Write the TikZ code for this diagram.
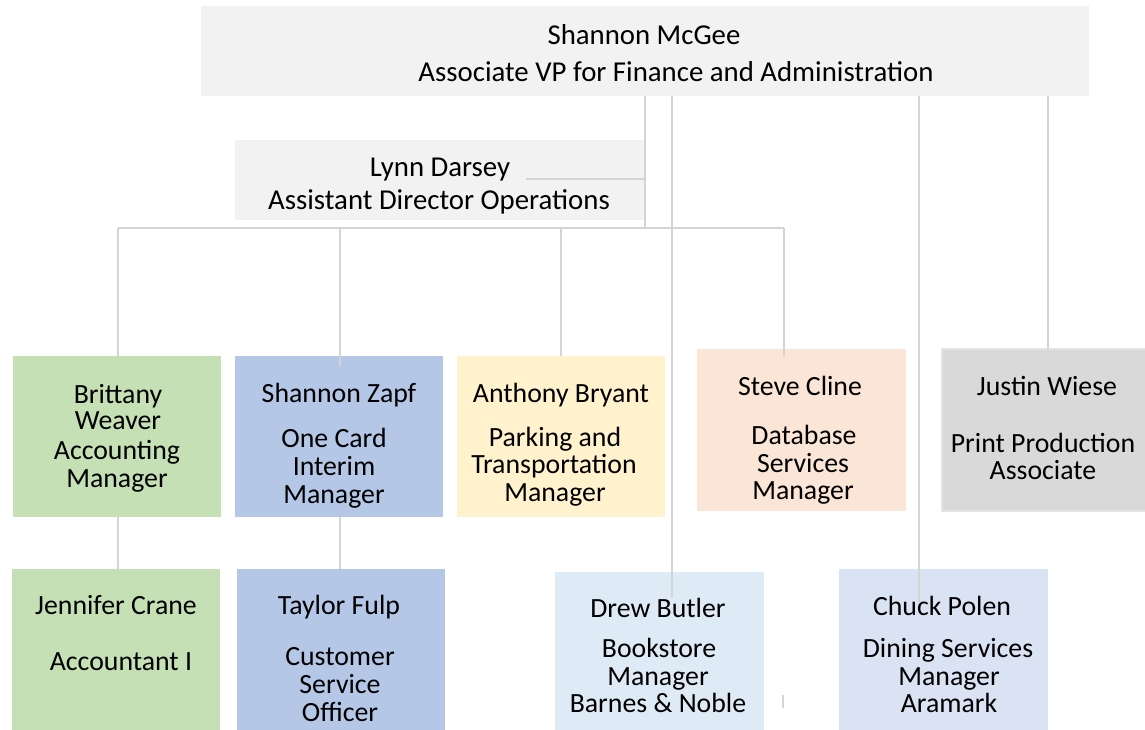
\documentclass[tikz,border=0pt]{standalone}
\usepackage{fontspec}
\setmainfont{Carlito}
\definecolor{topfill}{HTML}{F2F2F2}
\definecolor{greenfill}{HTML}{C5E0B4}
\definecolor{bluefill}{HTML}{B4C7E7}
\definecolor{yellowfill}{HTML}{FFF2CC}
\definecolor{peachfill}{HTML}{FBE5D6}
\definecolor{grayfill}{HTML}{D9D9D9}
\definecolor{grayedge}{HTML}{E4E4E4}
\definecolor{lightblue}{HTML}{DEEBF7}
\definecolor{paleblue}{HTML}{DAE3F3}
\definecolor{linecol}{HTML}{D4D4D4}
\begin{document}
\begin{tikzpicture}[x=1pt,y=-1pt,
  box/.style={inner sep=0pt, outer sep=0pt, anchor=north west, draw=none},
  txt/.style={anchor=base, inner sep=0pt, font=\fontsize{27.8}{28}\selectfont},
  bigtxt/.style={anchor=base, inner sep=0pt, font=\fontsize{28.8}{29}\selectfont},
  conn/.style={draw=linecol, line width=1.1pt}]
\useasboundingbox (0,0) rectangle (1145,729);
\clip (0,0) rectangle (1145,729);
% boxes
\node[box, fill=topfill, minimum width=888pt, minimum height=90pt] (top) at (201,6) {};
\node[box, fill=topfill, minimum width=410pt, minimum height=80pt] (lynn) at (235,140) {};
\node[box, fill=greenfill, minimum width=208pt, minimum height=161pt] (brit) at (13,356) {};
\node[box, fill=bluefill, minimum width=208pt, minimum height=161pt] (zapf) at (235,356) {};
\node[box, fill=yellowfill, minimum width=208pt, minimum height=161pt] (anth) at (457,356) {};
\node[box, fill=peachfill, minimum width=209pt, minimum height=162pt] (steve) at (697,349) {};
\node[box, fill=grayfill, draw=grayedge, line width=1.5pt, minimum width=212pt, minimum height=162pt] (justin) at (942,349) {};
\node[box, fill=greenfill, minimum width=208pt, minimum height=175pt] (jen) at (12,569) {};
\node[box, fill=bluefill, minimum width=208pt, minimum height=175pt] (taylor) at (237,569) {};
\node[box, fill=lightblue, minimum width=209pt, minimum height=175pt] (drew) at (555,572) {};
\node[box, fill=paleblue, minimum width=209pt, minimum height=175pt] (chuck) at (839,569) {};
% coordinates
\coordinate (bus) at (645,228);
\coordinate (busL) at (118,228);
\coordinate (busR) at (784,228);
\coordinate (lynnstub) at (526,179);
\coordinate (zapfend) at (340,367);
\coordinate (steveend) at (784,356);
\coordinate (drewtop) at (672,96);
\coordinate (drewend) at (672,598);
\coordinate (chucktop) at (919,96);
\coordinate (chuckend) at (919,602);
\coordinate (justtop) at (1048,96);
\coordinate (tickA) at (783,695);
\coordinate (tickB) at (783,708);
% connectors
\draw[conn] (top.south -| bus) -- (bus);
\draw[conn] (lynnstub) -- (lynnstub -| bus);
\draw[conn] (busL) -- (busR);
\draw[conn] (busL) -- (brit.north -| busL);
\draw[conn] (zapfend |- bus) -- (zapfend);
\draw[conn] (anth.north |- bus) -- (anth.north);
\draw[conn] (busR) -- (steveend);
\draw[conn] (drewtop) -- (drewend);
\draw[conn] (chucktop) -- (chuckend);
\draw[conn] (justtop) -- (justtop |- justin.north);
\draw[conn] (brit.south -| busL) -- (jen.north -| busL);
\draw[conn] (zapf.south -| zapfend) -- (taylor.north -| zapfend);
\draw[conn] (tickA) -- (tickB);
% texts
\node[bigtxt] (t-top1) at (644,44) {Shannon McGee};
\node[bigtxt] (t-top2) at (676,81) {Associate VP for Finance and Administration};
\node[bigtxt] (t-lynn1) at (440,176) {Lynn Darsey};
\node[bigtxt] (t-lynn2) at (439,209) {Assistant Director Operations};
\node[txt] (t-brit1) at (118,403) {Brittany};
\node[txt] (t-brit2) at (118,429) {Weaver};
\node[txt] (t-brit3) at (117,459) {Accounting};
\node[txt] (t-brit4) at (117,487) {Manager};
\node[txt] (t-zapf1) at (339,402) {Shannon Zapf};
\node[txt] (t-zapf2) at (334,447) {One Card};
\node[txt] (t-zapf3) at (334,475) {Interim};
\node[txt] (t-zapf4) at (334,503) {Manager};
\node[txt] (t-anth1) at (561,402) {Anthony Bryant};
\node[txt] (t-anth2) at (555,446) {Parking and};
\node[txt] (t-anth3) at (554,473) {Transportation};
\node[txt] (t-anth4) at (555,501) {Manager};
\node[txt] (t-steve1) at (800,395) {Steve Cline};
\node[txt] (t-steve2) at (804,444) {Database};
\node[txt] (t-steve3) at (803,472) {Services};
\node[txt] (t-steve4) at (803,499) {Manager};
\node[txt] (t-just1) at (1047,395) {Justin Wiese};
\node[txt] (t-just2) at (1043,452) {Print Production};
\node[txt] (t-just3) at (1043,479) {Associate};
\node[txt] (t-jen1) at (116,614) {Jennifer Crane};
\node[txt] (t-jen2) at (121,670) {Accountant I};
\node[txt] (t-tay1) at (339,614) {Taylor Fulp};
\node[txt] (t-tay2) at (340,665) {Customer};
\node[txt] (t-tay3) at (340,693) {Service};
\node[txt] (t-tay4) at (340,721) {Officer};
\node[txt] (t-drew1) at (658,617) {Drew Butler};
\node[txt] (t-drew2) at (659,657) {Bookstore};
\node[txt] (t-drew3) at (658,685) {Manager};
\node[txt] (t-drew4) at (658,712) {Barnes \& Noble};
\node[txt] (t-chuck1) at (942,615) {Chuck Polen};
\node[txt] (t-chuck2) at (948,657) {Dining Services};
\node[txt] (t-chuck3) at (949,685) {Manager};
\node[txt] (t-chuck4) at (949,712) {Aramark};
\end{tikzpicture}
\end{document}
